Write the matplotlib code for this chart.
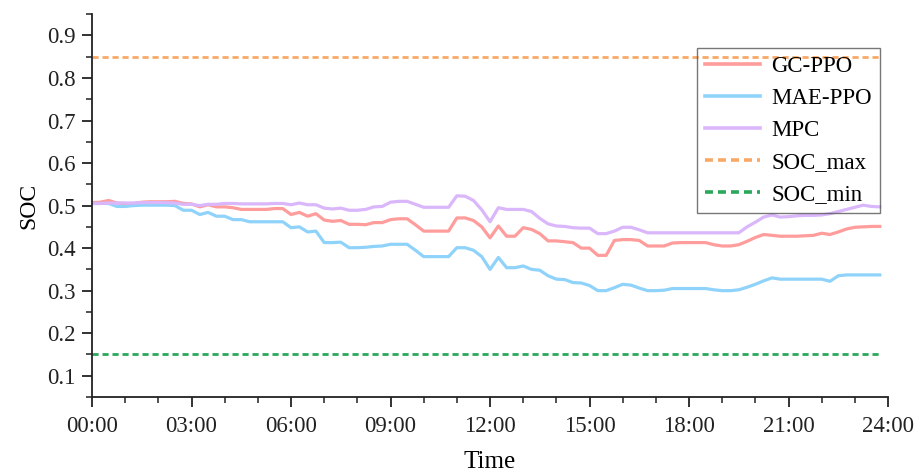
# SOC trajectories of three battery controllers over one day (15 min steps)

import numpy as np
import matplotlib.pyplot as plt
from matplotlib.ticker import MultipleLocator, FuncFormatter

plt.rcParams['font.family'] = ['Liberation Serif', 'DejaVu Serif']

hours = np.arange(96) * 0.25  # 00:00 ... 23:45

gc_ppo = [0.507, 0.508, 0.512, 0.506, 0.505, 0.505, 0.508, 0.509,
          0.509, 0.509, 0.510, 0.505, 0.504, 0.497, 0.502, 0.497,
          0.497, 0.495, 0.491, 0.491, 0.491, 0.491, 0.493, 0.493,
          0.479, 0.484, 0.475, 0.481, 0.466, 0.463, 0.465, 0.456,
          0.456, 0.455, 0.460, 0.460, 0.467, 0.469, 0.469, 0.455,
          0.440, 0.440, 0.440, 0.440, 0.471, 0.471, 0.465, 0.450,
          0.424, 0.452, 0.428, 0.428, 0.448, 0.444, 0.434, 0.417,
          0.417, 0.415, 0.413, 0.400, 0.400, 0.383, 0.383, 0.418,
          0.420, 0.420, 0.418, 0.405, 0.405, 0.405, 0.412, 0.413,
          0.413, 0.413, 0.413, 0.408, 0.405, 0.405, 0.408, 0.416,
          0.425, 0.432, 0.430, 0.428, 0.428, 0.428, 0.429, 0.430,
          0.435, 0.432, 0.438, 0.445, 0.449, 0.450, 0.451, 0.451]

mae_ppo = [0.505, 0.505, 0.505, 0.498, 0.498, 0.500, 0.501, 0.501,
           0.501, 0.501, 0.500, 0.489, 0.489, 0.479, 0.484, 0.475,
           0.475, 0.467, 0.467, 0.462, 0.462, 0.462, 0.462, 0.462,
           0.448, 0.450, 0.438, 0.440, 0.413, 0.413, 0.414, 0.401,
           0.401, 0.402, 0.404, 0.405, 0.409, 0.409, 0.409, 0.395,
           0.380, 0.380, 0.380, 0.380, 0.401, 0.401, 0.395, 0.380,
           0.350, 0.378, 0.354, 0.354, 0.358, 0.350, 0.348, 0.335,
           0.327, 0.326, 0.319, 0.318, 0.312, 0.300, 0.300, 0.307,
           0.315, 0.313, 0.306, 0.300, 0.300, 0.301, 0.305, 0.305,
           0.305, 0.305, 0.305, 0.302, 0.300, 0.300, 0.302, 0.308,
           0.315, 0.323, 0.330, 0.327, 0.327, 0.327, 0.327, 0.327,
           0.327, 0.322, 0.335, 0.337, 0.337, 0.337, 0.337, 0.337]

mpc = [0.505, 0.505, 0.506, 0.506, 0.506, 0.506, 0.507, 0.507,
       0.507, 0.507, 0.506, 0.503, 0.503, 0.500, 0.503, 0.503,
       0.505, 0.505, 0.504, 0.504, 0.504, 0.504, 0.505, 0.505,
       0.502, 0.506, 0.502, 0.502, 0.494, 0.492, 0.494, 0.489,
       0.489, 0.491, 0.497, 0.498, 0.508, 0.510, 0.510, 0.503,
       0.496, 0.496, 0.496, 0.496, 0.523, 0.522, 0.512, 0.490,
       0.462, 0.495, 0.491, 0.491, 0.491, 0.486, 0.470, 0.457,
       0.452, 0.451, 0.448, 0.447, 0.447, 0.434, 0.434, 0.440,
       0.449, 0.449, 0.443, 0.436, 0.436, 0.436, 0.436, 0.436,
       0.436, 0.436, 0.436, 0.436, 0.436, 0.436, 0.436, 0.450,
       0.461, 0.473, 0.478, 0.473, 0.474, 0.476, 0.477, 0.477,
       0.478, 0.481, 0.486, 0.491, 0.496, 0.501, 0.498, 0.497]

soc_max = 0.85
soc_min = 0.15

fig = plt.figure(figsize=(9.14, 4.73), dpi=100)
ax = fig.add_axes([0.1007, 0.1607, 0.8709, 0.8093])

ax.plot(hours, gc_ppo, color='#ff9c9c', lw=2.3, label='GC-PPO')
ax.plot(hours, mae_ppo, color='#8fd3fb', lw=2.3, label='MAE-PPO')
ax.plot(hours, mpc, color='#dab6fb', lw=2.3, label='MPC')
ax.plot(hours, [soc_max] * len(hours), color='#f9a865', lw=2.0,
        dashes=(2.2, 1.4), label='SOC_max')
ax.plot(hours, [soc_min] * len(hours), color='#2aa85a', lw=2.0,
        dashes=(2.2, 1.4), label='SOC_min')

ax.set_xlim(0, 24)
ax.set_ylim(0.05, 0.95)
ax.xaxis.set_major_locator(MultipleLocator(3))
ax.xaxis.set_minor_locator(MultipleLocator(1))
ax.xaxis.set_major_formatter(FuncFormatter(lambda v, p: '%02d:00' % int(round(v))))
ax.yaxis.set_major_locator(MultipleLocator(0.1))
ax.yaxis.set_minor_locator(MultipleLocator(0.05))
ax.yaxis.set_major_formatter(FuncFormatter(lambda v, p: '%.1f' % v))

for side in ['top', 'right']:
    ax.spines[side].set_visible(False)
for side in ['left', 'bottom']:
    ax.spines[side].set_linewidth(1.3)
    ax.spines[side].set_color('#222222')

ax.tick_params(which='major', direction='out', length=7, width=1.3,
               labelsize=16.5, colors='#222222')
ax.tick_params(which='minor', direction='out', length=4, width=1.1,
               colors='#222222')
ax.tick_params(axis='x', which='major', pad=7)
ax.tick_params(axis='y', which='major', pad=5)

ax.set_xlabel('Time', fontsize=18, labelpad=10)
ax.set_ylabel('SOC', fontsize=17, labelpad=5)

leg = ax.legend(loc='upper right', bbox_to_anchor=(0.99, 0.911),
                borderaxespad=0, fontsize=16.5, frameon=True, fancybox=False,
                facecolor='none', edgecolor='#555555', handlelength=2.4,
                handletextpad=0.5, labelspacing=0.47, borderpad=0.35)
leg.get_frame().set_linewidth(1.0)
for line in leg.get_lines():
    line.set_linewidth(2.6)

fig.savefig('out.png', dpi=100)
